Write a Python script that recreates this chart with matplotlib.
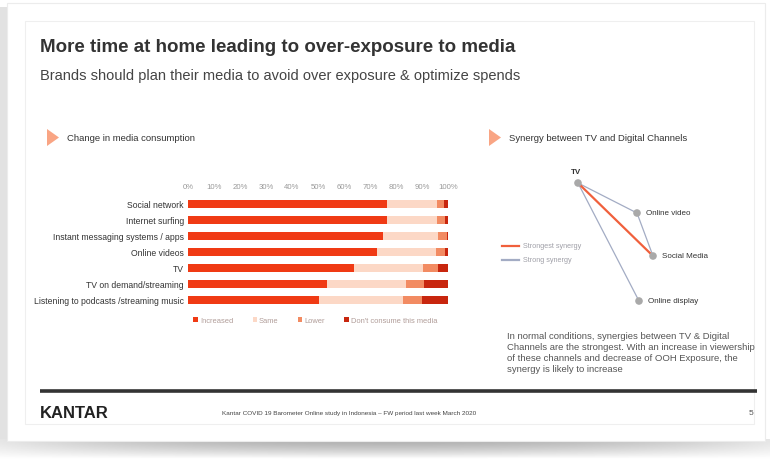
import numpy as np
import matplotlib
matplotlib.use("Agg")
import matplotlib.pyplot as plt
from matplotlib.patches import Rectangle, Polygon

plt.rcParams['font.family'] = ['Liberation Sans', 'DejaVu Sans']

# ---- data: change in media consumption (% of respondents) ----
media = ["Social network", "Internet surfing", "Instant messaging systems / apps",
         "Online videos", "TV", "TV on demand/streaming",
         "Listening to podcasts /streaming music"]
increased = [76.7, 76.7, 75.1, 72.5, 63.9, 53.5, 50.4]
same = [19.1, 19.1, 21.0, 23.0, 26.5, 30.4, 32.1]
lower = [2.8, 2.9, 3.6, 3.3, 5.7, 6.8, 7.5]
dont_consume = [1.4, 1.3, 0.3, 1.2, 3.9, 9.3, 10.0]
segment_names = ["Increased", "Same", "Lower", "Don't consume this media"]
segment_colors = ["#f03a14", "#fcd8c6", "#f28b62", "#c8260e"]
x_ticks = list(range(0, 101, 10))

# ---- data: synergy network ----
nodes = ["TV", "Online video", "Social Media", "Online display"]
node_layout = {"TV": (0.0, 0.0), "Online video": (0.59, -0.30),
               "Social Media": (0.75, -0.73), "Online display": (0.61, -1.18)}
edges = [("TV", "Online video", "strong"), ("TV", "Online display", "strong"),
         ("Online video", "Social Media", "strong"),
         ("TV", "Social Media", "strongest")]
edge_colors = {"strongest": "#f0603c", "strong": "#a3acc4"}

W, H = 770, 460
fig = plt.figure(figsize=(W / 100, H / 100), dpi=100)
fig.patch.set_facecolor("white")

# full-figure canvas in pixel units for the slide furniture
bg = fig.add_axes([0, 0, 1, 1])
bg.set_xlim(0, W)
bg.set_ylim(H, 0)
bg.axis("off")

# drop shadow under the card
xs = np.linspace(0, 1, 400)
ys = np.linspace(0, 1, 30)[:, None]
shade = 0.68 + 0.22 * (np.abs(xs - 0.5) * 2) ** 2
img = shade[None, :] + (1 - shade[None, :]) * ys ** 1.5
bg.imshow(img, cmap="gray", vmin=0, vmax=1, extent=(0, W, 460, 440),
          aspect="auto", zorder=0)
bg.add_patch(Rectangle((0, 8), 7, 432, facecolor="#e2e2e2", edgecolor="none", zorder=0))
bg.add_patch(Rectangle((7, 4), 758, 438, facecolor="white", edgecolor="#ececec",
                       linewidth=0.8, zorder=1))
bg.add_patch(Rectangle((25, 22), 729, 403, facecolor="white", edgecolor="#efefef",
                       linewidth=0.8, zorder=1))

# titles
bg.text(40, 48, "More time at home leading to over-exposure to media",
        fontsize=13.5, fontweight="bold", color="#333333", va="center", zorder=3)
bg.text(40, 76, "Brands should plan their media to avoid over exposure & optimize spends",
        fontsize=10.5, color="#444444", va="center", zorder=3)

# section headers with triangle bullets
for x0, label in [(47, "Change in media consumption"),
                  (489, "Synergy between TV and Digital Channels")]:
    bg.add_patch(Polygon([(x0, 130), (x0, 147), (x0 + 12, 138.5)],
                         closed=True, facecolor="#f9a584", edgecolor="none", zorder=3))
    bg.text(x0 + 20, 138.5, label, fontsize=6.8, color="#333333", va="center", zorder=3)

# footer
bg.plot([40, 757], [392, 392], color="#333333", linewidth=2.6, zorder=3,
        solid_capstyle="butt")
bg.text(40, 414, "KANTAR", fontsize=12, fontweight="bold", color="#222222",
        va="center", zorder=3)
bg.text(222, 414, "Kantar COVID 19 Barometer Online study in Indonesia \u2013 FW period last week March 2020",
        fontsize=4.6, color="#444444", va="center", zorder=3)
bg.text(749, 414, "5", fontsize=6, color="#555555", va="center", zorder=3)

# paragraph
bg.text(507, 353, "In normal conditions, synergies between TV & Digital\n"
        "Channels are the strongest. With an increase in viewership\n"
        "of these channels and decrease of OOH Exposure, the\n"
        "synergy is likely to increase",
        fontsize=6.8, color="#555555", va="center", linespacing=1.28, zorder=3)

# ---- stacked bar chart ----
ax = fig.add_axes([188 / W, 1 - 309 / H, 260 / W, 112 / H])
ax.set_facecolor("none")
ypos = np.arange(len(media))
left = np.zeros(len(media))
for vals, name, col in zip([increased, same, lower, dont_consume], segment_names, segment_colors):
    ax.barh(ypos, vals, left=left, height=0.46, color=col, label=name, zorder=2)
    left += np.array(vals)
ax.set_xlim(0, 100)
ax.set_ylim(len(media) - 0.5, -0.5)
ax.set_yticks(ypos)
ax.set_yticklabels(media, fontsize=6.2, color="#333333")
ax.set_xticks(x_ticks)
ax.set_xticklabels([f"{t}%" for t in x_ticks], fontsize=5.6, color="#999999")
ax.xaxis.tick_top()
ax.tick_params(axis="both", length=0, pad=3)
ax.tick_params(axis="x", pad=4)
for s in ax.spines.values():
    s.set_visible(False)
leg = ax.legend(loc="upper center", bbox_to_anchor=(0.49, -0.02), ncol=4,
                frameon=False, fontsize=5.4, handlelength=0.55, handleheight=0.55,
                handletextpad=0.3, columnspacing=2.6)
for t in leg.get_texts():
    t.set_color("#b09c98")

# ---- synergy network (1 layout unit = 100 px) ----
nx = fig.add_axes([560 / W, 1 - 320 / H, 160 / W, 160 / H])
nx.set_facecolor("none")
nx.axis("off")
for a, b, kind in edges:
    (x1, y1), (x2, y2) = node_layout[a], node_layout[b]
    nx.plot([x1, x2], [y1, y2], color=edge_colors[kind],
            linewidth=1.6 if kind == "strongest" else 0.9, zorder=2)
for n in nodes:
    x, y = node_layout[n]
    nx.scatter([x], [y], s=30, color="#a9a9a9", zorder=3, edgecolors="none")
    if n == "TV":
        nx.text(x - 0.02, y + 0.08, n, fontsize=5.8, color="#333333",
                ha="center", va="bottom", fontweight="bold")
    else:
        nx.text(x + 0.09, y, n, fontsize=5.8, color="#333333", va="center")
nx.set_xlim(-0.18, 1.42)
nx.set_ylim(-1.36, 0.24)

# network legend
for yy, txt, kind in [(247, "Strongest synergy", "strongest"), (261, "Strong synergy", "strong")]:
    bg.plot([502, 519], [yy, yy], color=edge_colors[kind], linewidth=1.6, zorder=3)
    bg.text(523, yy, txt, fontsize=5.2, color="#a0a0a8", va="center", zorder=3)

fig.savefig("out.png", dpi=100)
